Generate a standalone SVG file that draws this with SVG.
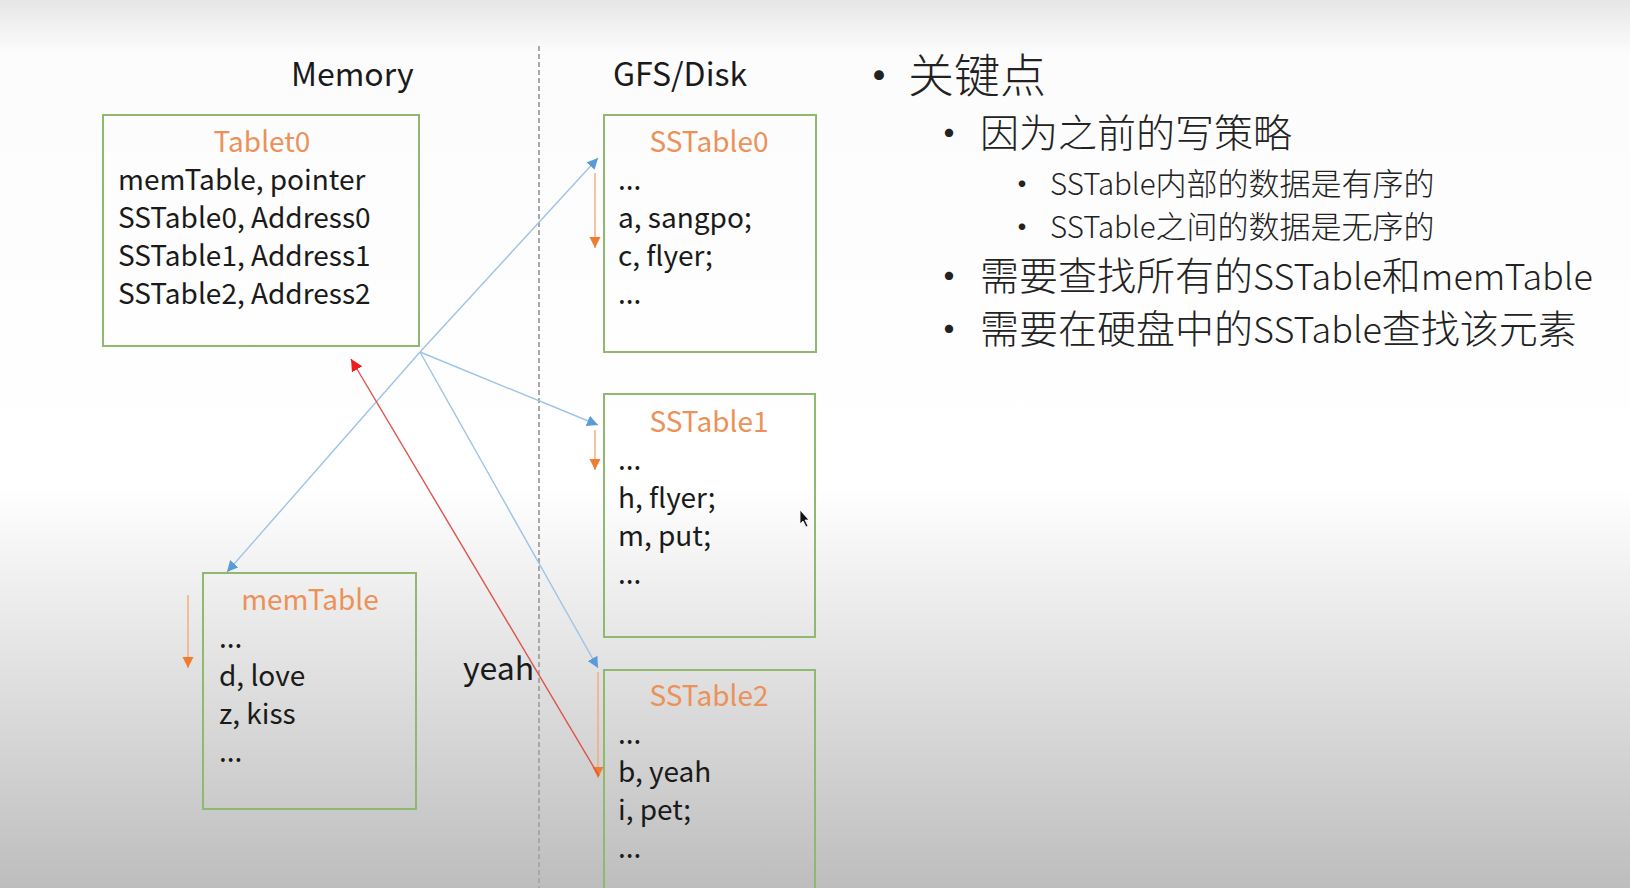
<svg xmlns="http://www.w3.org/2000/svg" width="1630" height="888" viewBox="0 0 1630 888">
  <defs>
    <linearGradient id="bg" x1="0" y1="0" x2="0" y2="1">
      <stop offset="0" stop-color="#e6e6e6"/>
      <stop offset="0.06" stop-color="#fcfcfc"/>
      <stop offset="0.55" stop-color="#ffffff"/>
      <stop offset="1" stop-color="#bdbdbd"/>
    </linearGradient>
    <marker id="ab" markerUnits="userSpaceOnUse" markerWidth="12" markerHeight="12" refX="11" refY="5.5" orient="auto">
      <path d="M0,0 L11,5.5 L0,11 z" fill="#5b9bd5"/>
    </marker>
    <marker id="ao" markerUnits="userSpaceOnUse" markerWidth="12" markerHeight="12" refX="11" refY="5.5" orient="auto">
      <path d="M0,0 L11,5.5 L0,11 z" fill="#ed7d31"/>
    </marker>
    <marker id="ar" markerUnits="userSpaceOnUse" markerWidth="14" markerHeight="14" refX="12" refY="6" orient="auto">
      <path d="M0,0 L12,6 L0,12 z" fill="#ee1c1c"/>
    </marker>
  </defs>
  <style>
    text { font-family: "Noto Sans CJK SC", "Liberation Sans", sans-serif; fill: #1a1a1a; }
    .box { fill: none; stroke: #8fb870; stroke-width: 2; }
    .title { fill: #ec9158; font-size: 28px; text-anchor: middle; }
    .row { font-size: 28px; }
    .hdr { font-size: 32px; }
    .blue { stroke: #9dc3e6; stroke-width: 1.4; fill: none; marker-end: url(#ab); }
    .orange { stroke: #f4a97a; stroke-width: 1.4; fill: none; marker-end: url(#ao); }
    .red { stroke: #e0524a; stroke-width: 1.4; fill: none; marker-end: url(#ar); }
    .note { font-weight: 300; fill: #222; }
    .b1 { font-size: 46px; }
    .b2 { font-size: 39px; }
    .b2 .lat { font-size: 36px; }
    .b3 { font-size: 31px; }
    .b3 .lat { font-size: 29.5px; }
    .dot { text-anchor: middle; font-weight: 400; }
  </style>

  <rect x="0" y="0" width="1630" height="888" fill="url(#bg)"/>

  <line id="divider" x1="539" y1="46" x2="539" y2="888" stroke="#a8a8a8" stroke-width="2" stroke-dasharray="5,3"/>

  <text class="hdr" x="291" y="86">Memory</text>
  <text class="hdr" x="613" y="86">GFS/Disk</text>

  <g id="tablet0">
    <rect class="box" x="103" y="115" width="316" height="231"/>
    <text class="title" x="262" y="152">Tablet0</text>
    <text class="row" x="118" y="190">memTable, pointer</text>
    <text class="row" x="118" y="228">SSTable0, Address0</text>
    <text class="row" x="118" y="266">SSTable1, Address1</text>
    <text class="row" x="118" y="304">SSTable2, Address2</text>
  </g>

  <g id="sstable0">
    <rect class="box" x="604" y="115" width="212" height="237"/>
    <text class="title" x="709" y="152">SSTable0</text>
    <text class="row" x="618" y="190">...</text>
    <text class="row" x="618" y="228">a, sangpo;</text>
    <text class="row" x="618" y="266">c, flyer;</text>
    <text class="row" x="618" y="304">...</text>
  </g>

  <g id="sstable1">
    <rect class="box" x="604" y="394" width="211" height="243"/>
    <text class="title" x="709" y="432">SSTable1</text>
    <text class="row" x="618" y="470">...</text>
    <text class="row" x="618" y="508">h, flyer;</text>
    <text class="row" x="618" y="546">m, put;</text>
    <text class="row" x="618" y="584">...</text>
  </g>

  <g id="sstable2">
    <rect class="box" x="604" y="670" width="211" height="240"/>
    <text class="title" x="709" y="706">SSTable2</text>
    <text class="row" x="618" y="744">...</text>
    <text class="row" x="618" y="782">b, yeah</text>
    <text class="row" x="618" y="820">i, pet;</text>
    <text class="row" x="618" y="858">...</text>
  </g>

  <g id="memtable">
    <rect class="box" x="203" y="573" width="213" height="236"/>
    <text class="title" x="310" y="610">memTable</text>
    <text class="row" x="219" y="648">...</text>
    <text class="row" x="219" y="686">d, love</text>
    <text class="row" x="219" y="724">z, kiss</text>
    <text class="row" x="219" y="762">...</text>
  </g>

  <g id="yeah-label">
    <text class="hdr" x="463" y="680">yeah</text>
  </g>

  <g id="connectors">
    <line class="blue" x1="420" y1="352" x2="598" y2="158"/>
    <line class="blue" x1="420" y1="352" x2="598" y2="425"/>
    <line class="blue" x1="420" y1="352" x2="598" y2="668"/>
    <line class="blue" x1="420" y1="352" x2="227" y2="572"/>
    <line class="orange" x1="595" y1="173" x2="595" y2="248"/>
    <line class="orange" x1="595" y1="430" x2="595" y2="470"/>
    <line class="orange" x1="598" y1="672" x2="598" y2="778"/>
    <line class="orange" x1="188" y1="595" x2="188" y2="668"/>
    <line class="red" x1="599" y1="776" x2="351" y2="359"/>
  </g>

  <g id="notes">
    <text class="note b1 dot" x="879" y="92">•</text>
    <text class="note b1" x="908" y="92">关键点</text>
    <text class="note b2 dot" x="949" y="147">•</text>
    <text class="note b2" x="980" y="147">因为之前的写策略</text>
    <text class="note b3 dot" x="1022" y="195">•</text>
    <text class="note b3" x="1050" y="195"><tspan class="lat">SSTable</tspan>内部的数据是有序的</text>
    <text class="note b3 dot" x="1022" y="238">•</text>
    <text class="note b3" x="1050" y="238"><tspan class="lat">SSTable</tspan>之间的数据是无序的</text>
    <text class="note b2 dot" x="949" y="290">•</text>
    <text class="note b2" x="980" y="290">需要查找所有的<tspan class="lat">SSTable</tspan>和<tspan class="lat">memTable</tspan></text>
    <text class="note b2 dot" x="949" y="343">•</text>
    <text class="note b2" x="980" y="343">需要在硬盘中的<tspan class="lat">SSTable</tspan>查找该元素</text>
  </g>

  <path id="cursor" d="M800,510 L800,524 L803,521 L806,527 L808,526 L805,520 L809,520 z" fill="#111" stroke="#fff" stroke-width="0.8"/>
</svg>
